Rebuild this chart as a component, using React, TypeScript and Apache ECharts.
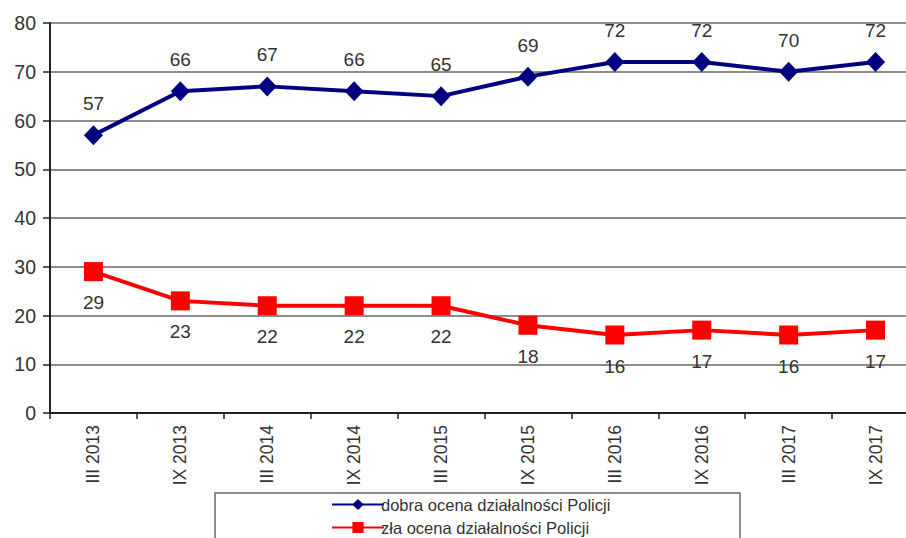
import React, { useEffect, useRef } from "react";
import * as echarts from "echarts";

const categories = ["III 2013", "IX 2013", "III 2014", "IX 2014", "III 2015", "IX 2015", "III 2016", "IX 2016", "III 2017", "IX 2017"];
const goodValues = [57, 66, 67, 66, 65, 69, 72, 72, 70, 72];
const badValues = [29, 23, 22, 22, 22, 18, 16, 17, 16, 17];
const yTicks = [0, 10, 20, 30, 40, 50, 60, 70, 80];
const seriesNames = ["dobra ocena działalności Policji", "zła ocena działalności Policji"];

export default function App() {
  const ref = useRef<HTMLDivElement>(null);
  useEffect(() => {
    if (!ref.current) return;
    const chart = echarts.init(ref.current, undefined, { renderer: "svg" });
    const font = "Liberation Sans, Arial, sans-serif";
    const legendBase = {
      orient: "horizontal",
      left: 326,
      itemWidth: 52,
      itemHeight: 14,
      textStyle: { fontSize: 16.5, color: "#333", fontFamily: font, padding: [0, 0, 0, -8] },
    };
    chart.setOption({
      animation: false,
      textStyle: { fontFamily: font },
      grid: { left: 50, right: 11, top: 23, bottom: 125 },
      xAxis: {
        type: "category",
        data: categories,
        boundaryGap: true,
        axisLine: { lineStyle: { color: "#222", width: 2 } },
        axisTick: { show: true, length: 6, lineStyle: { color: "#222", width: 1.5 } },
        axisLabel: { rotate: 90, margin: 12, fontSize: 17.5, color: "#333", fontFamily: font },
      },
      yAxis: {
        type: "value",
        min: yTicks[0],
        max: yTicks[yTicks.length - 1],
        interval: 10,
        axisLine: { show: true, lineStyle: { color: "#222", width: 2 } },
        axisTick: { show: true, length: 7, lineStyle: { color: "#222", width: 1.5 } },
        axisLabel: { fontSize: 19.5, color: "#333", margin: 14, fontFamily: font },
        splitLine: { lineStyle: { color: "#666", width: 1.5 } },
      },
      legend: [
        { ...legendBase, top: 491, data: [seriesNames[0]] },
        { ...legendBase, top: 514, data: [seriesNames[1]] },
      ],
      graphic: [
        {
          type: "rect",
          shape: { x: 215, y: 493, width: 525, height: 80 },
          style: { fill: "none", stroke: "#666", lineWidth: 1.5 },
          z: 0,
        },
      ],
      series: [
        {
          name: seriesNames[0],
          type: "line",
          data: goodValues,
          symbol: "diamond",
          symbolSize: [19, 20],
          itemStyle: { color: "#000080" },
          lineStyle: { color: "#000080", width: 4 },
          label: { show: true, position: "top", distance: 12, fontSize: 19, color: "#333", fontFamily: font },
          z: 3,
        },
        {
          name: seriesNames[1],
          type: "line",
          data: badValues,
          symbol: "rect",
          symbolSize: 19,
          itemStyle: { color: "#FF0000" },
          lineStyle: { color: "#FF0000", width: 4 },
          label: { show: true, position: "bottom", distance: 12, fontSize: 19, color: "#333", fontFamily: font },
          z: 3,
        },
      ],
    });
    return () => chart.dispose();
  }, []);
  return <div ref={ref} style={{ position: "fixed", left: 0, top: 0, width: 930, height: 538, background: "#fff" }} />;
}
